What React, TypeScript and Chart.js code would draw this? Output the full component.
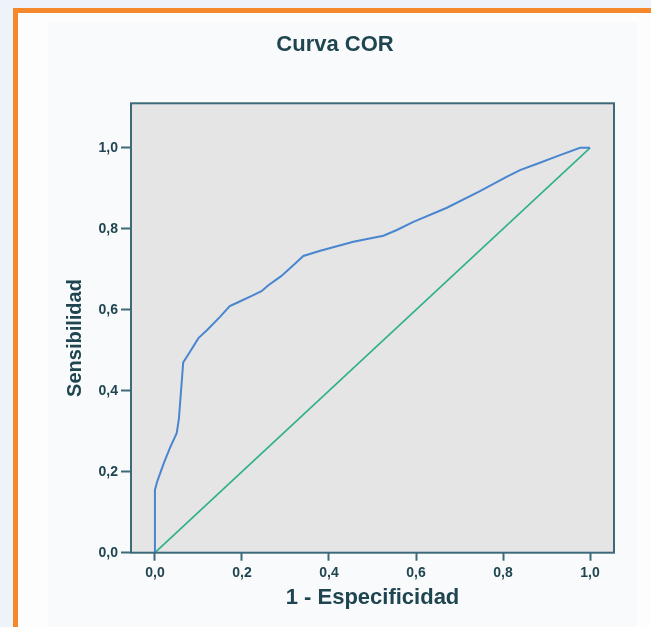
import React, { useEffect, useRef } from "react";
import { Chart, registerables } from "chart.js";

Chart.register(...registerables);

// ---- data ----
const chartTitle = "Curva COR";
const xAxisTitle = "1 - Especificidad";
const yAxisTitle = "Sensibilidad";

// ROC curve: 1 - specificity (x) and sensitivity (y)
const fprValues = [
  0, 0, 0.005, 0.02, 0.035, 0.05, 0.055, 0.06, 0.065, 0.077, 0.1, 0.12, 0.15,
  0.172, 0.19, 0.226, 0.245, 0.26, 0.29, 0.318, 0.341, 0.38, 0.456, 0.525,
  0.556, 0.594, 0.671, 0.747, 0.808, 0.839, 0.877, 0.931, 0.977, 1.0,
];
const tprValues = [
  0, 0.155, 0.175, 0.22, 0.26, 0.295, 0.33, 0.4, 0.47, 0.49, 0.53, 0.55, 0.583,
  0.609, 0.618, 0.636, 0.646, 0.66, 0.683, 0.71, 0.733, 0.746, 0.768, 0.783,
  0.797, 0.817, 0.852, 0.893, 0.928, 0.945, 0.96, 0.982, 1.0, 1.0,
];
// reference line
const diagonalX = [0, 1];
const diagonalY = [0, 1];

const tickValues = [0, 0.2, 0.4, 0.6, 0.8, 1.0];
const xRange = [-0.055, 1.055];
const yRange = [0, 1.11];

// ---- styles ----
const FONT = "'Liberation Sans', Arial, sans-serif";
const TEXT_COLOR = "#1f4550";
const AXIS_COLOR = "#3d6a78";

const fmt = (v: number) => v.toFixed(1).replace(".", ",");

const framePlugin = {
  id: "plotFrame",
  beforeDatasetsDraw(chart: any) {
    const { ctx, chartArea } = chart;
    const { left, top, right, bottom } = chartArea;
    ctx.save();
    ctx.fillStyle = "#e5e5e5";
    ctx.fillRect(left, top, right - left, bottom - top);
    ctx.restore();
  },
  afterDatasetsDraw(chart: any) {
    const { ctx, chartArea } = chart;
    const { left, top, right, bottom } = chartArea;
    ctx.save();
    ctx.strokeStyle = AXIS_COLOR;
    ctx.lineWidth = 2;
    ctx.strokeRect(left, top, right - left, bottom - top);
    ctx.restore();
  },
  afterDraw(chart: any) {
    const { ctx } = chart;
    ctx.save();
    ctx.translate(75, 338);
    ctx.rotate(-Math.PI / 2);
    ctx.font = `bold 20px ${FONT}`;
    ctx.fillStyle = TEXT_COLOR;
    ctx.textAlign = "center";
    ctx.textBaseline = "middle";
    ctx.fillText(yAxisTitle, 0, 0);
    ctx.restore();
  },
};

export default function App() {
  const canvasRef = useRef<HTMLCanvasElement | null>(null);

  useEffect(() => {
    document.body.style.margin = "0";
    const canvas = canvasRef.current;
    if (!canvas) return;

    const curve = fprValues.map((x, i) => ({ x, y: tprValues[i] }));
    const diagonal = diagonalX.map((x, i) => ({ x, y: diagonalY[i] }));

    const chart = new Chart(canvas, {
      type: "scatter",
      data: {
        datasets: [
          {
            label: "Diagonal",
            data: diagonal,
            showLine: true,
            borderColor: "#2fb08c",
            borderWidth: 1.6,
            pointRadius: 0,
            order: 2,
          },
          {
            label: "ROC",
            data: curve,
            showLine: true,
            borderColor: "#4a86d0",
            borderWidth: 2,
            pointRadius: 0,
            order: 1,
          },
        ],
      },
      options: {
        responsive: false,
        animation: false,
        devicePixelRatio: 1,
        layout: { padding: { left: 56, right: 37, top: 0, bottom: 0 } },
        plugins: {
          legend: { display: false },
          tooltip: { enabled: false },
          title: {
            display: true,
            text: chartTitle,
            color: TEXT_COLOR,
            font: { family: FONT, size: 22, weight: "bold" },
            padding: { top: 32.1, bottom: 44.8 },
          },
        },
        scales: {
          x: {
            type: "linear",
            min: xRange[0],
            max: xRange[1],
            afterFit: (s: any) => {
              s.height = 74.3;
            },
            afterBuildTicks: (s: any) => {
              s.ticks = tickValues.map((v) => ({ value: v }));
            },
            border: { display: false },
            grid: {
              drawOnChartArea: false,
              drawTicks: true,
              tickLength: 8,
              tickWidth: 2,
              tickColor: AXIS_COLOR,
            },
            ticks: {
              padding: 4,
              color: TEXT_COLOR,
              font: { family: FONT, size: 14, weight: "bold" },
              callback: (v: any) => fmt(Number(v)),
              maxRotation: 0,
            },
            title: {
              display: true,
              text: xAxisTitle,
              color: TEXT_COLOR,
              font: { family: FONT, size: 22, weight: "bold" },
              padding: { top: 0, bottom: 15.5 },
            },
          },
          y: {
            type: "linear",
            min: yRange[0],
            max: yRange[1],
            afterFit: (s: any) => {
              s.width = 75;
            },
            afterBuildTicks: (s: any) => {
              s.ticks = tickValues.map((v) => ({ value: v }));
            },
            border: { display: false },
            grid: {
              drawOnChartArea: false,
              drawTicks: true,
              tickLength: 10,
              tickWidth: 2,
              tickColor: AXIS_COLOR,
            },
            ticks: {
              padding: 3,
              color: TEXT_COLOR,
              font: { family: FONT, size: 14, weight: "bold" },
              callback: (v: any) => fmt(Number(v)),
            },
          },
        },
      },
      plugins: [framePlugin],
    } as any);

    return () => chart.destroy();
  }, []);

  return (
    <div
      style={{
        position: "relative",
        width: 651,
        height: 627,
        background: "#eef2f9",
        overflow: "hidden",
      }}
    >
      <div
        style={{
          position: "absolute",
          left: 13,
          top: 8,
          width: 651 - 13,
          height: 627 - 8,
          borderLeft: "5px solid #f4882b",
          borderTop: "5px solid #f4882b",
          background: "#fdfdfe",
          boxSizing: "border-box",
        }}
      />
      <div
        style={{
          position: "absolute",
          left: 48,
          top: 22,
          width: 637 - 48,
          height: 627 - 22,
          background: "#f9fafc",
        }}
      />
      <canvas
        ref={canvasRef}
        width={651}
        height={627}
        style={{ position: "absolute", left: 0, top: 0, width: 651, height: 627 }}
      />
    </div>
  );
}
